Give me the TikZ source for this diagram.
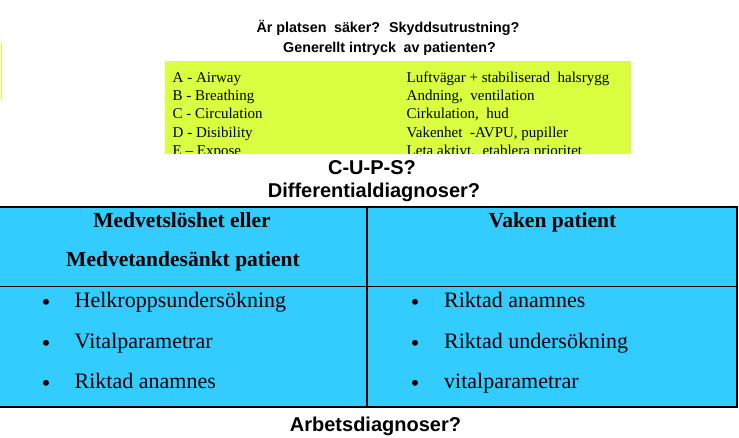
\documentclass[tikz,border=0pt]{standalone}
\usepackage{fontspec}
\setmainfont{Liberation Serif}
\newfontfamily\arialf{Liberation Sans}
\definecolor{limebg}{RGB}{217,255,64}
\definecolor{skybg}{RGB}{51,204,255}
\newcommand{\xsp}{\kern0.25em}
\begin{document}
\begin{tikzpicture}[x=1pt,y=-1pt,
  head/.style={inner sep=0pt,anchor=base,font=\arialf\bfseries\fontsize{14.3}{16}\selectfont},
  bighead/.style={inner sep=0pt,anchor=base,font=\arialf\bfseries\fontsize{20}{22}\selectfont},
  abc/.style={inner sep=0pt,anchor=base west,font=\fontsize{15}{18}\selectfont},
  colhead/.style={inner sep=0pt,anchor=base,font=\bfseries\fontsize{21.5}{24}\selectfont},
  item/.style={inner sep=0pt,anchor=base west,font=\fontsize{22}{24}\selectfont},
  bul/.style={circle,fill=black,inner sep=0pt,minimum size=6pt},
  rule/.style={line width=1.4pt,black}]
\useasboundingbox (0,0) rectangle (739,438);
\fill[white] (0,0) rectangle (739,438);
% thin left mark
\draw[limebg,line width=1pt] (1.5,42) -- (1.5,100);
% heading
\node[head] (h1) at (388,33) {Är platsen\xsp{} säker?\xsp{} Skyddsutrustning?};
\node[head] (h2) at (389.5,52.5) {Generellt intryck\xsp{} av patienten?};
% green box
\begin{scope}
\clip (165,61) rectangle (631,154);
\fill[limebg] (165,61) rectangle (631,154);
\node[abc] (a1) at (172.5,82.3) {A - Airway};
\node[abc] (a2) at (172.5,100.5) {B - Breathing};
\node[abc] (a3) at (172.5,119) {C - Circulation};
\node[abc] (a4) at (172.5,137.3) {D - Disibility};
\node[abc] (a5) at (172.5,155.5) {E -- Expose};
\node[abc] (b1) at (406.5,82.3) {Luftvägar + stabiliserad\xsp{} halsrygg};
\node[abc] (b2) at (406.5,100.5) {Andning,\xsp{} ventilation};
\node[abc] (b3) at (406.5,119) {Cirkulation,\xsp{} hud};
\node[abc] (b4) at (406.5,137.3) {Vakenhet\xsp{} -AVPU, pupiller};
\node[abc] (b5) at (406.5,155.5) {Leta aktivt,\xsp{} etablera prioritet};
\end{scope}
\node[bighead] (cups) at (372,175) {C-U-P-S?};
\node[bighead] (diff) at (374,197.3) {Differentialdiagnoser?};
% table
\fill[skybg] (0,207) rectangle (737,407);
\draw[rule] (0,207) -- (737,207) -- (737,407) -- (0,407);
\draw[rule] (0,286.5) -- (737,286.5);
\draw[rule] (367,207) -- (367,407);
\node[colhead] (c1a) at (182,227.3) {Medvetslöshet eller};
\node[colhead] (c1b) at (183,266.7) {Medvetandesänkt patient};
\node[colhead] (c2) at (552.5,227.3) {Vaken patient};
\foreach \y/\t [count=\i] in {307.3/Helkroppsundersökning,348.3/Vitalparametrar,388.3/Riktad anamnes}{
  \node[bul] (lb\i) at (46,\y-5.5) {};
  \node[item] (lt\i) at (74.5,\y) {\t};
}
\foreach \y/\t [count=\i] in {307.3/Riktad anamnes,348.3/Riktad undersökning,388.3/vitalparametrar}{
  \node[bul] (rb\i) at (415,\y-5.5) {};
  \node[item] (rt\i) at (444,\y) {\t};
}
\node[bighead] (arb) at (375.5,431.7) {Arbetsdiagnoser?};
\end{tikzpicture}
\end{document}
